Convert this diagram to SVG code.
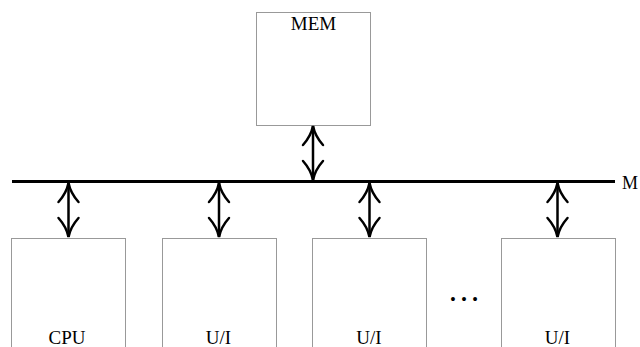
<svg xmlns="http://www.w3.org/2000/svg" width="640" height="347" viewBox="0 0 640 347">
  <style>
    .box { fill: none; stroke: #333; stroke-width: 1; stroke-dasharray: 1 1; }
    .lbl { font-family: "Liberation Serif", "Times New Roman", serif; font-size: 19px; fill: #000; text-anchor: middle; }
    .bus { stroke: #000; stroke-width: 3; fill: none; }
    .shaft { stroke: #000; stroke-width: 2.5; fill: none; }
    .head { stroke: #000; stroke-width: 2.5; fill: none; stroke-linecap: round; }
  </style>
  <defs>
    <!-- double-headed vertical arrow, 56 units long, drawn from y=0 to y=56 -->
    <g id="darrow">
      <line class="shaft" x1="0" y1="1" x2="0" y2="55"/>
      <path class="head" d="M -10 20 Q -2 11 0 1 Q 2 11 10 20"/>
      <path class="head" d="M -10 36 Q -2 45 0 55 Q 2 45 10 36"/>
    </g>
  </defs>

  <rect width="640" height="347" fill="#fff"/>

  <g id="connectors">
    <line class="bus" x1="12" y1="181.5" x2="615" y2="181.5"/>
    <use href="#darrow" x="313" y="125"/>
    <use href="#darrow" x="68.5" y="182"/>
    <use href="#darrow" x="219" y="182"/>
    <use href="#darrow" x="369.5" y="182"/>
    <use href="#darrow" x="557.5" y="182"/>
  </g>

  <g id="bus-label">
    <text class="lbl" x="622" y="188.5" style="text-anchor:start;font-size:18px">M</text>
  </g>

  <g id="mem">
    <rect class="box" x="256.5" y="12.5" width="114" height="113"/>
    <text class="lbl" x="313.5" y="29.5">MEM</text>
  </g>

  <g id="cpu">
    <rect class="box" x="11.5" y="238.5" width="114" height="120"/>
    <text class="lbl" x="67" y="344">CPU</text>
  </g>

  <g id="io1">
    <rect class="box" x="162.5" y="238.5" width="114" height="120"/>
    <text class="lbl" x="218.5" y="344">U/I</text>
  </g>

  <g id="io2">
    <rect class="box" x="312.5" y="238.5" width="114" height="120"/>
    <text class="lbl" x="369" y="344">U/I</text>
  </g>

  <g id="ellipsis">
    <text class="lbl" x="464" y="301" style="font-size:33px">…</text>
  </g>

  <g id="io3">
    <rect class="box" x="501.5" y="238.5" width="114" height="120"/>
    <text class="lbl" x="557.5" y="344">U/I</text>
  </g>
</svg>
